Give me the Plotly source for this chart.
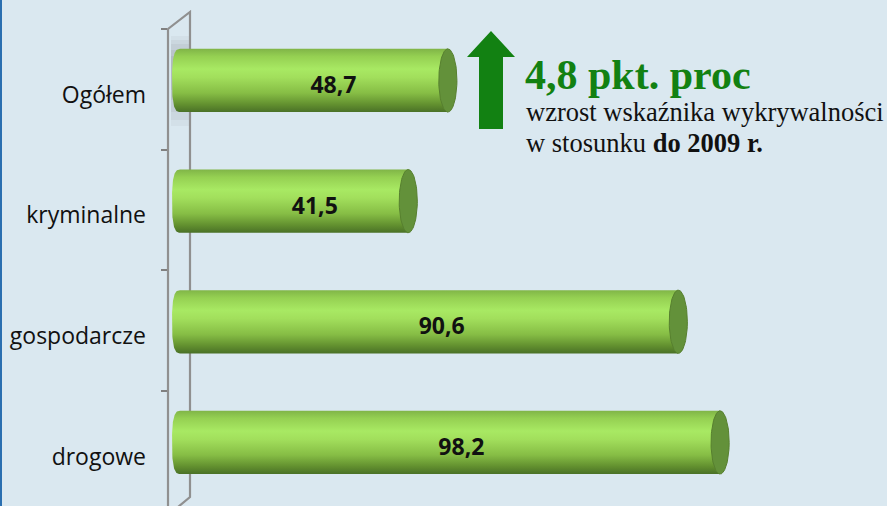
import numpy as np
import plotly.graph_objects as go

# ---------------- data ----------------
categories = ["Ogółem", "kryminalne", "gospodarcze", "drogowe"]
values = [48.7, 41.5, 90.6, 98.2]
value_labels = ["48,7", "41,5", "90,6", "98,2"]
headline = "4,8 pkt. proc"
sub_line1 = "wzrost wskaźnika wykrywalności"
sub_line2 = "w stosunku <b>do 2009 r.</b>"

# ---------------- geometry / style ----------------
W, H = 887, 506
L = 168                     # left margin (axis wall position)
ypos = [3, 2, 1, 0]         # top-to-bottom category slots
Y_RANGE = [-0.452, 3.742]
X_RANGE = [-12 / 5.5, 707 / 5.5]
BAR_SHIFT = 0.075           # perspective lift of the cylinders
HALF = 0.262                # half thickness of cylinder (y units)
RX_L = 1.45                 # left rounded cap radius (x units)
RX_R = 1.65                 # right ellipse radius (x units)
BG = "#dae8f0"


def paper_x(px):
    return (px - L) / (W - L)


def paper_y(py):
    return (H - py) / H


body_scale = [
    [0.0, "#4a7127"],
    [0.12, "#62902f"],
    [0.30, "#86bd45"],
    [0.55, "#a2df5c"],
    [0.68, "#a8e963"],
    [0.88, "#95d052"],
    [1.0, "#80b547"],
]

fig = go.Figure()

for cat, v, y in zip(categories, values, ypos):
    yc = y + BAR_SHIFT
    t = np.linspace(np.pi / 2, 3 * np.pi / 2, 60)
    n = 2.8
    c = np.cos(t)
    s = np.sin(t)
    lx = -RX_L * np.abs(c) ** (2 / n)
    ly = yc + HALF * np.sign(s) * np.abs(s) ** (2 / n)
    xs = list(lx) + [v, v, lx[0]]
    ys = list(ly) + [yc - HALF, yc + HALF, ly[0]]
    fig.add_trace(go.Scatter(
        x=xs, y=ys, mode="lines", fill="toself",
        line=dict(width=0, color="rgba(0,0,0,0)"),
        fillgradient=dict(type="vertical", colorscale=body_scale,
                          start=yc - HALF, stop=yc + HALF),
        hoverinfo="skip", showlegend=False, name=cat,
    ))
    te = np.linspace(0, 2 * np.pi, 80)
    fig.add_trace(go.Scatter(
        x=v + RX_R * np.cos(te), y=yc + HALF * np.sin(te),
        mode="lines", fill="toself", fillcolor="#63913a",
        line=dict(width=1, color="#57802f"),
        hoverinfo="skip", showlegend=False, name=cat,
    ))

fig.add_trace(go.Scatter(
    x=[0.47 * v + 5 for v in values],
    y=[y + BAR_SHIFT - 0.055 for y in ypos],
    mode="text", text=value_labels,
    textfont=dict(family="Open Sans", size=23, color="#111111", weight="bold"),
    hoverinfo="skip", showlegend=False,
))

shapes = []
# wall shadow behind top bar (soft, layered)
for (a, b, op) in [(36, 126, 0.06), (40, 120, 0.07), (44, 112, 0.08), (50, 100, 0.09), (56, 90, 0.09)]:
    shapes.append(dict(type="rect", xref="paper", yref="paper",
                       x0=paper_x(171), x1=paper_x(189), y0=paper_y(b), y1=paper_y(a),
                       fillcolor=f"rgba(100,105,112,{op})", line=dict(width=0), layer="below"))
# wall outline
shapes.append(dict(type="path", xref="paper", yref="paper", layer="below",
                   path=f"M {paper_x(168)},{paper_y(520)} L {paper_x(168)},{paper_y(29)} "
                        f"L {paper_x(190)},{paper_y(12)} L {paper_x(190)},{paper_y(497)} "
                        f"L {paper_x(172)},{paper_y(512)}",
                   line=dict(color="#909090", width=2.2)))
# arrow
shapes.append(dict(type="path", xref="paper", yref="paper",
                   path=f"M {paper_x(491)},{paper_y(31)} L {paper_x(515)},{paper_y(57)} "
                        f"L {paper_x(503)},{paper_y(57)} L {paper_x(503)},{paper_y(129)} "
                        f"L {paper_x(479)},{paper_y(129)} L {paper_x(479)},{paper_y(57)} "
                        f"L {paper_x(467)},{paper_y(57)} Z",
                   fillcolor="#128112", line=dict(width=0)))
# left frame line
shapes.append(dict(type="line", xref="paper", yref="paper",
                   x0=paper_x(1), x1=paper_x(1), y0=0, y1=1,
                   line=dict(color="#2a6fb0", width=2)))

annotations = [
    dict(text=f"<b>{headline}</b>", x=paper_x(523), y=paper_y(75), xref="paper", yref="paper",
         xanchor="left", yanchor="middle", showarrow=False,
         font=dict(family="Liberation Serif", size=42, color="#128112")),
    dict(text=sub_line1, x=paper_x(524), y=paper_y(112), xref="paper", yref="paper",
         xanchor="left", yanchor="middle", showarrow=False,
         font=dict(family="Liberation Serif", size=26.5, color="#111111")),
    dict(text=sub_line2, x=paper_x(524), y=paper_y(143), xref="paper", yref="paper",
         xanchor="left", yanchor="middle", showarrow=False,
         font=dict(family="Liberation Serif", size=26.5, color="#111111")),
]

fig.update_layout(
    width=W, height=H,
    margin=dict(l=L, r=0, t=0, b=0),
    paper_bgcolor=BG, plot_bgcolor=BG,
    showlegend=False,
    shapes=shapes, annotations=annotations,
    xaxis=dict(range=X_RANGE, visible=False, fixedrange=True),
    yaxis=dict(range=Y_RANGE, tickmode="array", tickvals=ypos, ticktext=categories,
               ticks="", showgrid=False, zeroline=False, showline=False,
               tickfont=dict(family="Open Sans", size=23, color="#111111"),
               ticklabelstandoff=21, ticklabelshift=5, fixedrange=True,
               minor=dict(tickmode="array", tickvals=[-0.5, 0.5, 1.5, 2.5, 3.5],
                          ticks="outside", ticklen=6, tickwidth=1.5,
                          tickcolor="#808080", showgrid=False)),
)

fig.write_html("out.html")
